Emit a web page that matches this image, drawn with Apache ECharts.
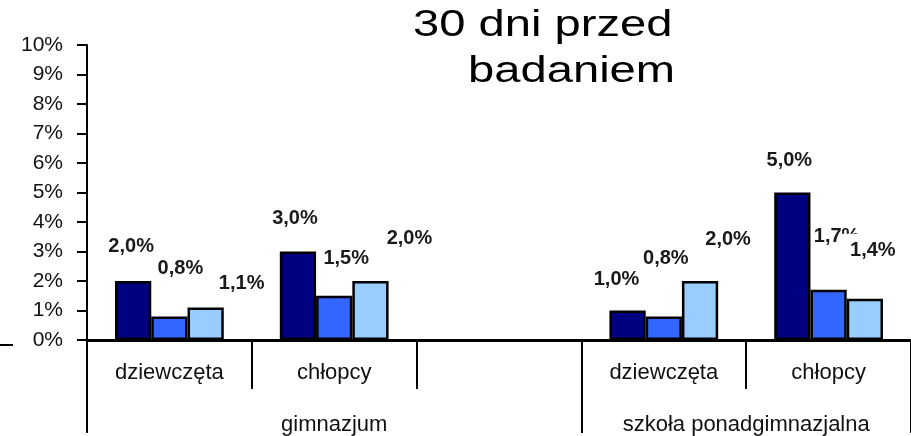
<!DOCTYPE html>
<html>
<head>
<meta charset="utf-8">
<script src="https://cdn.jsdelivr.net/npm/echarts@6/dist/echarts.min.js"></script>
<style>
html,body{margin:0;padding:0;background:#fff;}
#chart{width:911px;height:436px;}
</style>
</head>
<body>
<div id="chart"></div>
<script>
// ---- data ----
const categories = ['dziewczęta', 'chłopcy', '', 'dziewczęta', 'chłopcy'];
const groups = ['gimnazjum', 'szkoła ponadgimnazjalna'];
const groupSizes = [3, 2];
const series1 = [2.0, 3.0, null, 1.0, 5.0];
const series2 = [0.8, 1.5, null, 0.8, 1.7];
const series3 = [1.1, 2.0, null, 2.0, 1.4];
const yMin = 0, yMax = 10, yStep = 1;
const titleLines = ['30 dni przed', 'badaniem'];

// ---- label placement (style, not data) ----
const offs1 = [[-2, -35], [-3, -33], null, [-11, -31], [-3, -32]];
const offs2 = [[11, -48], [12, -37], null, [2, -58], [8, -53]];
const offs3 = [[36, -24], [39, -43], null, [28, -42], [8, -48]];
const boxedLabel = { series: 2, index: 4 }; // label with white box covering neighbour

const colors = ['#000080', '#3366FF', '#99CCFF'];
const fmt = v => v.toFixed(1).replace('.', ',') + '%';
const FONT = 'Liberation Sans';

function buildData(vals, offs, sIdx) {
  return vals.map((v, i) => {
    if (v === null) return null;
    const o = offs[i];
    if (boxedLabel.series === sIdx && boxedLabel.index === i) {
      return {
        value: v,
        label: {
          offset: [o[0] - 2, o[1] + 13],
          backgroundColor: '#fff',
          padding: [6, 4, 2, 8]
        }
      };
    }
    return { value: v, label: { offset: [o[0], o[1] + 11] } };
  });
}

// group tick positions and label centres (in category units)
const groupBounds = [0];
groupSizes.forEach(s => groupBounds.push(groupBounds[groupBounds.length - 1] + s));
const groupCenters = groupSizes.map((s, i) => groupBounds[i] + s / 2);

const chart = echarts.init(document.getElementById('chart'), null, { renderer: 'canvas' });

const labelCommon = {
  show: true,
  position: 'top',
  distance: 0,
  color: '#1a1a1a',
  fontFamily: FONT,
  fontWeight: 'bold',
  fontSize: 20,
  lineHeight: 22,
  formatter: p => fmt(p.value)
};

const mkSeries = (name, vals, offs, idx) => ({
  name: name,
  type: 'bar',
  xAxisIndex: 0,
  data: buildData(vals, offs, idx),
  barGap: '0%',
  barCategoryGap: '34%',
  itemStyle: { color: colors[idx], borderColor: '#000', borderWidth: 2.5 },
  label: labelCommon,
  emphasis: { disabled: true }
});

const option = {
  animation: false,
  grid: { left: 87, top: 45, bottom: 93, width: 828, containLabel: false },
  xAxis: [
    {
      type: 'category',
      data: categories,
      position: 'bottom',
      axisLine: { show: true, lineStyle: { color: '#000', width: 3 } },
      axisTick: { show: true, interval: 0, length: 49, lineStyle: { color: '#000', width: 2 } },
      axisLabel: { interval: 0, margin: 22, color: '#111', fontFamily: FONT, fontSize: 22 },
      splitLine: { show: false }
    },
    {
      type: 'value',
      min: 0,
      max: categories.length,
      position: 'bottom',
      axisLine: { show: false },
      splitLine: { show: false },
      axisTick: { show: true, customValues: groupBounds, length: 93, lineStyle: { color: '#000', width: 2 } },
      axisLabel: {
        show: true,
        customValues: groupCenters,
        margin: 74,
        color: '#111',
        fontFamily: FONT,
        fontSize: 22,
        formatter: v => {
          const i = groupCenters.indexOf(v);
          return i >= 0 ? groups[i] : '';
        }
      }
    }
  ],
  yAxis: {
    type: 'value',
    min: yMin,
    max: yMax,
    interval: yStep,
    axisLine: { show: true, lineStyle: { color: '#000', width: 2 } },
    axisTick: { show: true, length: 10, lineStyle: { color: '#000', width: 2 } },
    axisLabel: { margin: 24, color: '#111', fontFamily: FONT, fontSize: 21, formatter: '{value}%' },
    splitLine: { show: false }
  },
  series: [
    mkSeries('seria 1', series1, offs1, 0),
    mkSeries('seria 2', series2, offs2, 1),
    mkSeries('seria 3', series3, offs3, 2)
  ],
  graphic: [
    { type: 'line', shape: { x1: 0, y1: 345, x2: 13, y2: 345 }, style: { stroke: '#000', lineWidth: 2 }, silent: true },
    { type: 'text', x: 413, y: 26, scaleX: 1.31, style: { text: titleLines[0], fontFamily: FONT, fontSize: 36, fill: '#000', textAlign: 'left', textVerticalAlign: 'middle' }, silent: true },
    { type: 'text', x: 468, y: 72, scaleX: 1.31, style: { text: titleLines[1], fontFamily: FONT, fontSize: 36, fill: '#000', textAlign: 'left', textVerticalAlign: 'middle' }, silent: true }
  ]
};

chart.setOption(option);
</script>
</body>
</html>
